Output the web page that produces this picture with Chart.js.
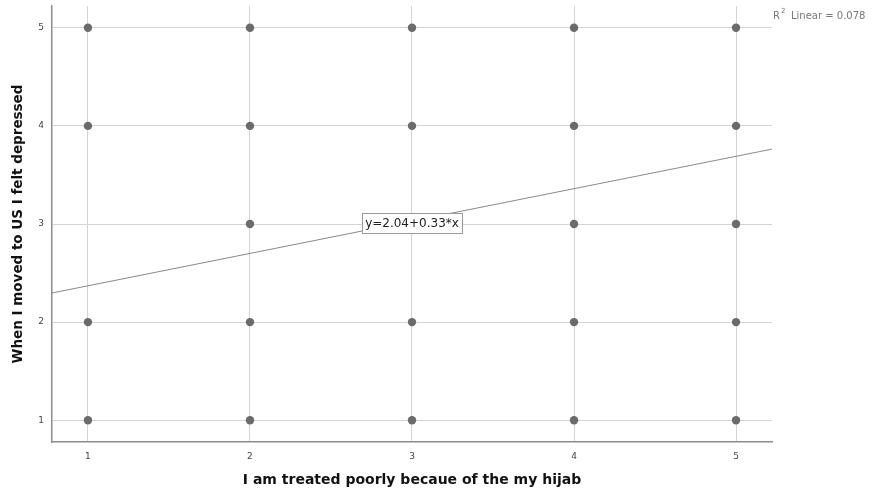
<!DOCTYPE html>
<html>
<head>
<meta charset="utf-8">
<script src="https://cdn.jsdelivr.net/npm/chart.js@4"></script>
<style>
  body { margin: 0; background: #fff; }
  #wrap { width: 873px; height: 495px; }
</style>
</head>
<body>
<div id="wrap"><canvas id="scatter"></canvas></div>
<script>
// observed (x, y) answer combinations
const xValues = [1, 2, 3, 4, 5,  1, 2, 3, 4, 5,  2, 3, 4, 5,  1, 2, 3, 4, 5,  1, 2, 3, 4, 5];
const yValues = [5, 5, 5, 5, 5,  4, 4, 4, 4, 4,  3, 3, 3, 3,  2, 2, 2, 2, 2,  1, 1, 1, 1, 1];
const tickValues = [1, 2, 3, 4, 5];
const fitIntercept = 2.04;
const fitSlope = 0.33;
const rSquared = 0.078;

const axisMin = 0.778;
const axisMax = 5.222;

const points = xValues.map((x, i) => ({ x: x, y: yValues[i] }));
const fitLine = [axisMin, axisMax].map(x => ({ x: x, y: fitIntercept + fitSlope * x }));
const fitLabel = 'y=' + fitIntercept.toFixed(2) + '+' + fitSlope.toFixed(2) + '*x';

const fixTicks = scale => { scale.ticks = tickValues.map(v => ({ value: v })); };

const annotations = {
    id: 'annotations',
    afterDatasetsDraw(chart) {
        const c = chart.ctx;
        const xs = chart.scales.x, ys = chart.scales.y;
        // equation label on the fit line at x = 3
        const px = xs.getPixelForValue(3);
        const py = ys.getPixelForValue(fitIntercept + fitSlope * 3);
        c.save();
        c.font = '12px "DejaVu Sans"';
        const w = c.measureText(fitLabel).width + 6;
        const h = 20;
        c.fillStyle = '#fff';
        c.fillRect(px - w / 2, py - h / 2 + 2, w, h);
        c.strokeStyle = '#999';
        c.lineWidth = 1;
        c.strokeRect(Math.round(px - w / 2) + 0.5, Math.round(py - h / 2 + 2) + 0.5, Math.round(w), h);
        c.fillStyle = '#222';
        c.textAlign = 'center';
        c.textBaseline = 'middle';
        c.fillText(fitLabel, px, py + 3);
        // R squared note, top right
        c.fillStyle = '#777';
        c.textAlign = 'left';
        c.textBaseline = 'alphabetic';
        c.font = '10px "DejaVu Sans"';
        c.fillText('R', 773, 19);
        c.font = '7px "DejaVu Sans"';
        c.fillText('2', 781, 13);
        c.font = '10px "DejaVu Sans"';
        c.fillText('Linear = ' + rSquared.toFixed(3), 791, 19);
        c.restore();
    }
};

new Chart(document.getElementById('scatter').getContext('2d'), {
    type: 'scatter',
    data: {
        datasets: [{
            data: points,
            backgroundColor: '#6b6b6b',
            borderWidth: 0,
            pointRadius: 4.2,
            pointHoverRadius: 4.2
        }, {
            type: 'line',
            data: fitLine,
            borderColor: '#8a8a8a',
            borderWidth: 1,
            pointRadius: 0,
            fill: false
        }]
    },
    options: {
        responsive: true,
        maintainAspectRatio: false,
        animation: false,
        layout: { padding: { top: 6, right: 101, left: 0, bottom: 0 } },
        plugins: { legend: { display: false }, tooltip: { enabled: false } },
        scales: {
            x: {
                type: 'linear',
                min: axisMin,
                max: axisMax,
                afterBuildTicks: fixTicks,
                afterFit: s => { s.height = 53; s.paddingLeft = 0; s.paddingRight = 0; },
                grid: { color: '#d3d3d3', drawTicks: false },
                border: { color: '#8c8c8c', width: 1.5 },
                ticks: { color: '#444', font: { family: 'DejaVu Sans', size: 9 }, padding: 9 },
                title: {
                    display: true,
                    text: 'I am treated poorly becaue of the my hijab',
                    color: '#111',
                    font: { family: 'DejaVu Sans', size: 14, weight: 'bold' },
                    padding: { top: 0, bottom: 6 }
                }
            },
            y: {
                type: 'linear',
                min: axisMin,
                max: axisMax,
                afterBuildTicks: fixTicks,
                afterFit: s => { s.width = 52; s.paddingTop = 0; s.paddingBottom = 0; },
                grid: { color: '#d3d3d3', drawTicks: false },
                border: { color: '#8c8c8c', width: 1.5 },
                ticks: { color: '#444', font: { family: 'DejaVu Sans', size: 9 }, padding: 8 },
                title: {
                    display: true,
                    text: 'When I moved to US I felt depressed',
                    color: '#111',
                    font: { family: 'DejaVu Sans', size: 13.5, weight: 'bold' },
                    padding: { top: 10, bottom: 0 }
                }
            }
        }
    },
    plugins: [annotations]
});
</script>
</body>
</html>
